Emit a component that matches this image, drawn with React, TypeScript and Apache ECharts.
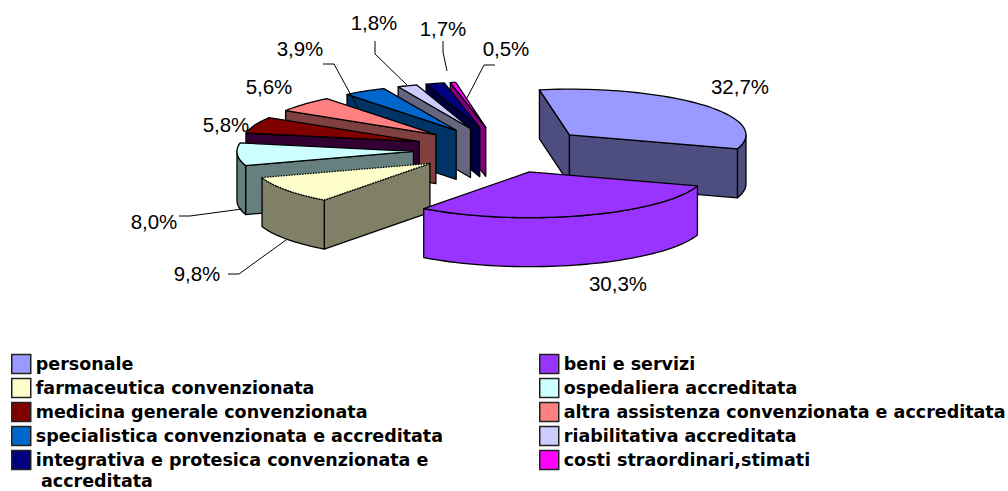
import React, { useEffect, useRef } from "react";
import * as echarts from "echarts";

const categories = [
  "personale",
  "beni e servizi",
  "farmaceutica convenzionata",
  "ospedaliera accreditata",
  "medicina generale convenzionata",
  "altra assistenza convenzionata e accreditata",
  "specialistica convenzionata e accreditata",
  "riabilitativa accreditata",
  "integrativa e protesica convenzionata e\naccreditata",
  "costi straordinari,stimati",
];
const values = [32.7, 30.3, 9.8, 8.0, 5.8, 5.6, 3.9, 1.8, 1.7, 0.5];
const topColors = ["#9999FF", "#9933FF", "#FFFFCC", "#CCFFFF", "#800000", "#FF8080", "#0066CC", "#CCCCFF", "#000080", "#FF00FF"];
const sideColors = ["#4D4D80", "#9933FF", "#808066", "#668080", "#330033", "#804040", "#003366", "#666680", "#000040", "#800080"];

// Label placement: text centre, then the leader line (if any)
const labelCentres = [[740, 86], [618, 283], [197, 273], [154, 221], [226, 124], [269, 86], [300, 48], [374, 22], [443, 28], [506, 48]];
const leaders: number[][][] = [
  [], [],
  [[228, 274], [239, 274], [286, 240]],
  [[179, 216], [190, 216], [242, 209]],
  [], [],
  [[323, 64], [334, 64], [358, 108]],
  [[375, 41], [375, 54], [407, 85]],
  [[443, 41], [443, 52], [447, 71]],
  [[495, 65], [484, 65], [467, 98]],
];

const CX = 502.3, CY = 150, R = 176.5, K = 0.259, EXPLODE = 89, DEPTH = 49, START = -9.8;
const total = values.reduce((a, b) => a + b, 0);
const rad = (d: number) => (d * Math.PI) / 180;

const spans = (() => {
  let acc = 0;
  return values.map((v) => {
    const a = START + (acc / total) * 360;
    acc += v;
    return [a, START + (acc / total) * 360];
  });
})();
const apexOf = (i: number) => {
  const mid = (spans[i][0] + spans[i][1]) / 2;
  return [CX + EXPLODE * Math.sin(rad(mid)), CY - EXPLODE * Math.cos(rad(mid)) * K];
};
const drawRank = values.map((_, i) => i).sort((p, q) => apexOf(p)[1] - apexOf(q)[1]);

function arcPoints(apex: number[], from: number, to: number) {
  const n = Math.max(2, Math.ceil(Math.abs(to - from) / 2));
  const pts: number[][] = [];
  for (let j = 0; j <= n; j++) {
    const t = rad(from + ((to - from) * j) / n);
    pts.push([apex[0] + R * Math.sin(t), apex[1] - R * Math.cos(t) * K]);
  }
  return pts;
}

function wallRange(a: number, b: number): number[] | null {
  // the rim faces the viewer between 90 and 270 degrees
  const lo = Math.max(a, 90), hi = Math.min(b, 270);
  return hi > lo ? [lo, hi] : null;
}

function sliceRenderer(i: number) {
  return () => {
    const [a, b] = spans[i];
    const apex = apexOf(i);
    const stroke = { stroke: "#000", lineWidth: 1.3, lineJoin: "round" };
    const side = { ...stroke, fill: sideColors[i] };
    const children: any[] = [];
    const down = (p: number[]) => [p[0], p[1] + DEPTH];
    const cut = (angle: number) => {
      const p = arcPoints(apex, angle, angle + 0.001)[0];
      children.push({ type: "polygon", silent: true, shape: { points: [apex, p, down(p), down(apex)] }, style: side });
    };
    if (Math.sin(rad(a)) < 0) cut(a);
    if (Math.sin(rad(b)) > 0) cut(b);
    const range = wallRange(a, b);
    if (range) {
      const rim = arcPoints(apex, range[0], range[1]);
      children.push({ type: "polygon", silent: true, shape: { points: [...rim, ...rim.map(down).reverse()] }, style: side });
    }
    children.push({
      type: "polygon",
      silent: true,
      shape: { points: [apex, ...arcPoints(apex, a, b)] },
      style: { ...stroke, fill: topColors[i], ...(i === 2 ? { lineDash: [1.5, 1.2] } : {}) },
    });
    return { type: "group", children };
  };
}

function labelRenderer(params: any) {
  const i = params.dataIndex;
  const children: any[] = [];
  if (leaders[i].length) {
    children.push({
      type: "polyline",
      silent: true,
      shape: { points: leaders[i] },
      style: { stroke: "#000", lineWidth: 1, fill: "none" },
    });
  }
  children.push({
    type: "text",
    silent: true,
    style: {
      text: values[i].toFixed(1).replace(".", ",") + "%",
      x: labelCentres[i][0],
      y: labelCentres[i][1],
      align: "center",
      verticalAlign: "middle",
      fill: "#000",
      font: '20.5px "Liberation Sans", Arial, sans-serif',
    },
  });
  return { type: "group", children };
}

const legendText = {
  fontFamily: '"DejaVu Sans", Verdana, sans-serif',
  fontWeight: "bold" as const,
  fontSize: 17.5,
  lineHeight: 19,
  padding: [5, 0, 0, 0],
  color: "#000",
};
const legendCommon = {
  orient: "vertical" as const,
  top: 352,
  itemWidth: 19,
  itemHeight: 19,
  itemGap: 0,
  padding: 0,
  selectedMode: false,
  icon: "rect",
  itemStyle: { borderColor: "#222", borderWidth: 1.5 },
  textStyle: legendText,
  formatter: (name: string) => name.split("\n")[0],
};

export default function App() {
  const ref = useRef<HTMLDivElement>(null);
  useEffect(() => {
    document.body.style.margin = "0";
    const chart = echarts.init(ref.current!, null, { renderer: "svg" });
    const second = categories[8].split("\n")[1];
    chart.setOption({
      animation: false,
      backgroundColor: "#fff",
      legend: [
        { ...legendCommon, left: 11, data: categories.filter((_, i) => i % 2 === 0) },
        { ...legendCommon, left: 539, data: categories.filter((_, i) => i % 2 === 1) },
      ],
      graphic: [
        {
          type: "text",
          x: 41,
          y: 480.5,
          style: {
            text: second,
            fill: "#000",
            verticalAlign: "middle",
            lineHeight: 15,
            font: 'bold 17.5px "DejaVu Sans", Verdana, sans-serif',
          },
        },
      ],
      series: [
        ...categories.map((name, i) => ({
          type: "custom",
          name,
          coordinateSystem: "none",
          z: 2 + drawRank.indexOf(i),
          itemStyle: { color: topColors[i] },
          data: [[values[i]]],
          renderItem: sliceRenderer(i),
        })),
        {
          type: "custom",
          name: "etichette",
          coordinateSystem: "none",
          z: 40,
          data: values.map((v) => [v]),
          renderItem: labelRenderer,
        },
      ],
    });
    return () => chart.dispose();
  }, []);
  return <div ref={ref} style={{ width: 1008, height: 491 }} />;
}
